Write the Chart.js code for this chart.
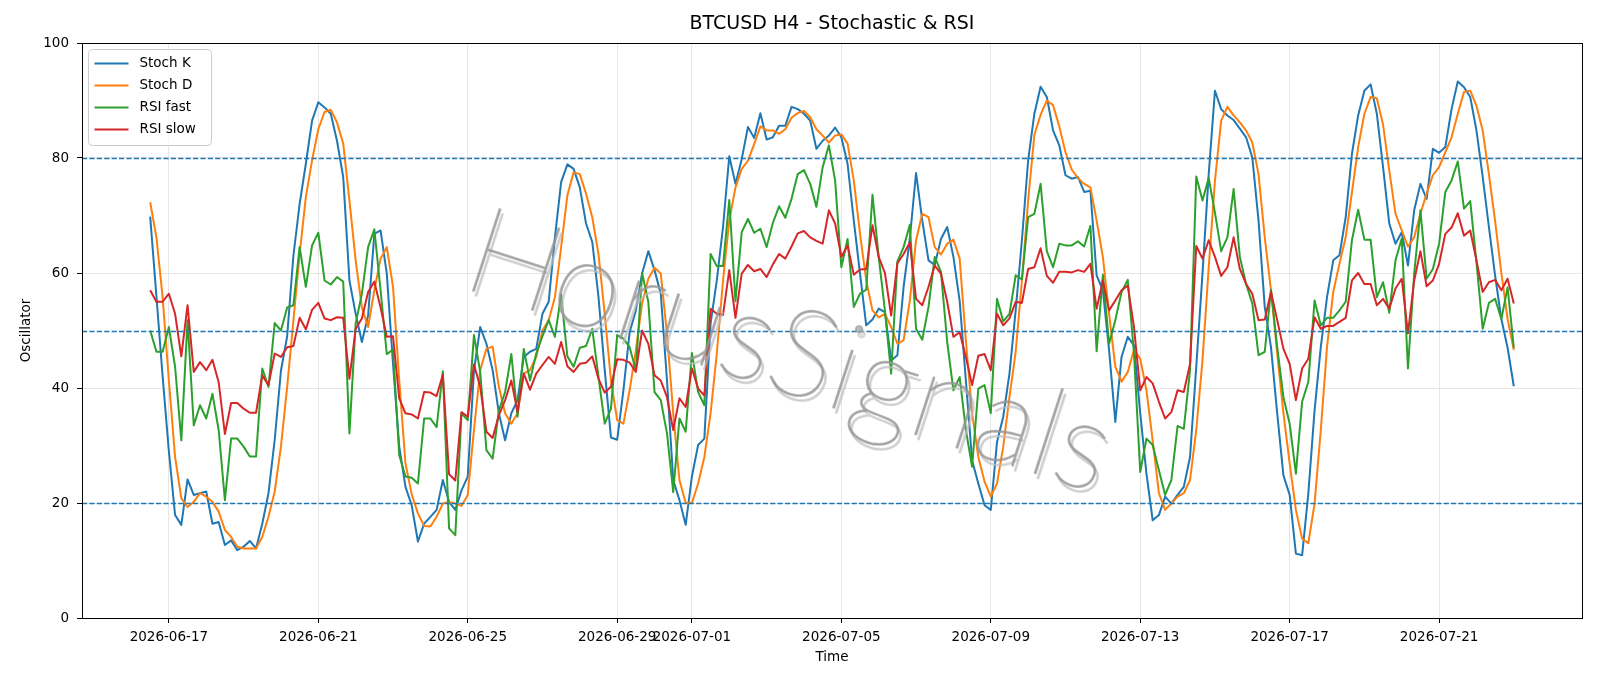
<!DOCTYPE html>
<html>
<head>
<meta charset="utf-8">
<title>BTCUSD H4 - Stochastic &amp; RSI</title>
<script src="https://cdn.jsdelivr.net/npm/chart.js@4.4.1/dist/chart.umd.min.js"></script>
<style>
  html, body { margin: 0; padding: 0; background: #fff; }
  #wrap { width: 1600px; height: 686px; position: relative; }
</style>
</head>
<body>
<div id="wrap"><canvas id="chart"></canvas></div>
<script>
// first H4 bar and spacing
const startTime = Date.UTC(2026, 5, 16, 12);
const barHours = 4;

const tickDates = ['2026-06-17', '2026-06-21', '2026-06-25', '2026-06-29', '2026-07-01',
                   '2026-07-05', '2026-07-09', '2026-07-13', '2026-07-17', '2026-07-21'];
const levels = [20, 50, 80];

const stochK = [
  69.8, 56, 42, 29, 17.9, 16.2, 24.1, 21.4, 21.7, 22,
  16.4, 16.7, 12.7, 13.5, 11.8, 12.4, 13.4, 12.1, 16.4, 21.7,
  31, 43, 49, 63, 72, 79, 86.5, 89.7, 88.8, 87.7,
  83, 76.7, 58.7, 52.9, 48, 52.6, 66.8, 67.4, 59.9, 44.2,
  29.8, 22.8, 19.6, 13.3, 16.4, 17.6, 18.8, 24, 20.2, 18.8,
  22.2, 24.6, 43, 50.6, 47.7, 43.1, 35.6, 30.9, 35.6, 37.9,
  45.4, 46.3, 46.8, 52.9, 55, 66.2, 75.8, 78.9, 78.1, 74.9,
  68.6, 65.4, 55.8, 43.1, 31.4, 31, 39.6, 49.7, 53.5, 59.9,
  63.8, 60.5, 56.4, 41.3, 24, 20.5, 16.2, 24.6, 30.1, 31.2,
  51.2, 58.7, 68, 80.3, 75.5, 79.8, 85.4, 83.5, 87.8, 83.2,
  83.6, 85.6, 85.6, 88.9, 88.5, 87.7, 86.5, 81.6, 83, 83.9,
  85.3, 83.6, 79, 69.1, 59.9, 50.9, 51.9, 53.8, 53.2, 44.8,
  45.7, 57.6, 66, 77.4, 69.1, 62.2, 61.4, 65.9, 68, 62.8,
  55.2, 41.3, 27.4, 23.4, 19.6, 18.8, 30.6, 35, 42.5, 53.5,
  65.7, 79.6, 87.7, 92.4, 90.6, 84.8, 82.2, 77, 76.4, 76.7,
  74.1, 74.3, 59.6, 57, 46.6, 34.1, 45.4, 48.9, 47.4, 35.6,
  25.1, 17, 17.9, 21.1, 19.9, 21.4, 22.8, 28, 43.7, 59.9,
  77.2, 91.7, 88.5, 87.4, 86.6, 85.1, 83.6, 80.1, 69.1, 54.1,
  47.1, 35.6, 24.8, 21.4, 11.2, 10.9, 21.7, 36.1, 47.1, 55.8,
  62.2, 63.1, 69.7, 80.7, 87.4, 91.7, 92.8, 87.7, 78.4, 68.6,
  65.1, 67.1, 61.3, 70.9, 75.5, 72.9, 81.6, 80.9, 81.9, 88.5,
  93.3, 92.3, 90.6, 84.8, 76.7, 68, 59.5, 52, 47, 40.3
];

const stochD = [
  72.3, 66.2, 55.8, 41.3, 28, 20.8, 19.3, 20.2, 21.7, 21.1,
  20.2, 18.5, 15.3, 14.1, 12.4, 12.1, 12.1, 12.1, 14.1, 17.6,
  22, 29.8, 40.2, 51.7, 63.3, 73.2, 79.6, 85, 88, 88.4,
  86.2, 82.5, 72.6, 62.2, 54, 50.6, 57, 62.5, 64.5, 57.6,
  41.3, 26.9, 21.5, 18.2, 16, 15.9, 17.6, 19.9, 20.2, 19.9,
  19.5, 21.4, 32.7, 43.1, 46.8, 47.2, 40.2, 35.6, 33.8, 35.6,
  42.5, 43.1, 45.4, 50, 51.8, 55.8, 64.5, 73.5, 77.5, 77.2,
  73.8, 69.7, 63.3, 52.9, 41.3, 34.4, 33.8, 39.6, 46.6, 54.7,
  59, 60.9, 59.9, 49.4, 35.6, 24, 20, 20, 23.4, 28,
  35.6, 46, 58.7, 69.1, 74.9, 78.1, 79.5, 82.4, 85.5, 84.8,
  84.8, 84.2, 85, 87, 87.8, 88.2, 87.1, 85, 83.9, 82.7,
  83.9, 84.1, 82.5, 76.1, 66.8, 58.7, 53.5, 52.3, 52.9, 50.6,
  47.7, 48.3, 55.2, 65.7, 70.3, 69.7, 64.5, 63.2, 65.1, 65.8,
  62.5, 48.3, 35.6, 28, 23.7, 21.1, 23.4, 29.8, 38.4, 46.3,
  58.7, 72.6, 84, 87.5, 90, 89.2, 85.5, 81, 78, 76.5,
  75.5, 74.9, 69.1, 62.8, 52.9, 43.7, 41.1, 42.8, 46.6, 45.1,
  39.6, 30.9, 21.7, 18.8, 19.9, 21.1, 21.7, 24, 32.7, 44.8,
  61, 76, 86.5, 88.9, 87.4, 86.2, 84.8, 82.7, 77.2, 66.2,
  57, 46, 35.6, 26.9, 18.8, 13.8, 13, 19.9, 32.7, 47.1,
  56.7, 61.6, 66.2, 74, 81.9, 87.7, 90.6, 90.4, 85.8, 77.8,
  70.3, 67.4, 64.6, 66.2, 70.3, 73.8, 77, 78.4, 81, 83.6,
  87.7, 91.5, 91.7, 89.1, 84.8, 77.2, 69, 60, 52, 46.6
];

const rsiFast = [
  50, 46.3, 46.3, 50.6, 43.7, 30.9, 51.8, 33.5, 37, 34.7,
  39, 32.7, 20.5, 31.2, 31.2, 29.8, 28.1, 28.1, 43.4, 40.2,
  51.3, 50, 54, 54.4, 64.5, 57.6, 64.8, 67, 58.7, 58,
  59.3, 58.5, 32.1, 51.2, 56.4, 64.5, 67.6, 57, 45.9, 46.7,
  28.3, 24.6, 24.4, 23.4, 34.7, 34.7, 33.2, 42.9, 15.6, 14.4,
  35.6, 34.4, 49.2, 42.8, 29.2, 27.7, 36.1, 39.3, 45.9, 35,
  46.8, 41.3, 46, 49, 51.8, 48.9, 56.2, 45.5, 43.7, 47,
  47.3, 50.3, 41.9, 33.8, 36.4, 49.2, 48.6, 47.1, 43.1, 60,
  55, 39.3, 37.9, 32.1, 21.9, 34.7, 32.4, 46.1, 39.3, 37,
  63.3, 61.2, 61.2, 72.7, 55.1, 67.1, 69.4, 67, 67.7, 64.5,
  68.7, 71.6, 69.6, 72.9, 77.2, 77.9, 75.5, 71.5, 78.4, 82.2,
  76.1, 61, 65.9, 54.1, 56.4, 57.1, 73.6, 62.8, 53.5, 42.5,
  62, 64.5, 68.4, 50.3, 48.4, 54.1, 62.8, 60.2, 48, 39.6,
  41.9, 32.7, 26.3, 39.9, 40.5, 35.6, 55.5, 51.6, 52.9, 59.6,
  58.9, 69.7, 70.3, 75.5, 63.8, 61, 65.1, 64.8, 64.8, 65.5,
  64.6, 68.2, 46.4, 59.7, 47.7, 51.8, 56.7, 58.8, 46, 25.4,
  31.2, 30.1, 25.7, 21.4, 24, 33.4, 32.9, 43.1, 76.8, 72.6,
  76.5, 70.5, 63.8, 66.2, 74.6, 62.8, 58.1, 54.7, 45.7, 46.3,
  57.1, 47.1, 38.4, 33.8, 25.1, 37.6, 41.1, 55.2, 50.9, 52.2,
  52.2, 53.5, 55, 65.7, 71, 65.8, 65.8, 55.8, 58.4, 53.1,
  62.2, 66, 43.4, 59.9, 70.9, 59, 60.7, 65.1, 74.1, 76.1,
  79.4, 71.2, 72.5, 61.9, 50.3, 54.8, 55.5, 52, 57.5, 47
];

const rsiSlow = [
  57, 55, 55, 56.4, 52.9, 45.5, 54.4, 42.8, 44.5, 43.1,
  44.9, 41, 32, 37.4, 37.4, 36.4, 35.7, 35.7, 42.2, 40.5,
  46, 45.4, 47.1, 47.3, 52.2, 50.2, 53.6, 54.8, 52.1, 51.8,
  52.3, 52.2, 41.6, 50.3, 52.1, 56.7, 58.5, 54, 48.9, 49,
  38.2, 35.6, 35.4, 34.7, 39.3, 39.2, 38.6, 42.3, 25, 23.9,
  35.8, 35, 44.1, 40.2, 32.4, 31.3, 35.3, 37.9, 41.3, 35.8,
  42.5, 39.7, 42.5, 44, 45.4, 44.2, 48, 43.8, 42.8, 44.2,
  44.4, 45.5, 41.6, 39.2, 40.2, 45, 44.9, 44.4, 42.8, 50,
  47.7, 42.2, 41.3, 38.4, 32.7, 38.2, 36.7, 43.4, 39.9, 38.7,
  53.8, 52.9, 52.7, 60.5, 52.2, 59.9, 61.4, 60.3, 60.7, 59.3,
  61.5, 63.3, 62.5, 64.6, 66.9, 67.3, 66.2, 65.6, 65.1, 70.9,
  68.6, 62.8, 64.8, 59.7, 60.6, 60.7, 68.3, 62.8, 60, 52.6,
  61.7, 63.3, 65.3, 55.5, 54.4, 57.6, 61.3, 59.9, 55, 48.9,
  49.7, 45.4, 40.5, 45.6, 45.9, 43.1, 52.9, 50.9, 52.1, 55,
  54.8, 60.7, 61, 64.3, 59.5, 58.3, 60.2, 60.2, 60.1, 60.5,
  60.2, 61.6, 53.8, 58.7, 53.5, 55.2, 57, 57.8, 50.6, 39.6,
  41.9, 40.8, 37.6, 34.7, 35.8, 39.6, 39.3, 44.2, 64.7, 62.5,
  65.7, 62.8, 59.5, 61, 66.2, 60.7, 58.1, 56.4, 51.8, 51.9,
  56.7, 51.8, 46.8, 44.2, 37.9, 43.4, 45.1, 52.3, 50.3, 50.8,
  50.8, 51.5, 52.2, 58.7, 60, 58.1, 58.1, 54.4, 55.5, 53.8,
  57.3, 59, 49.5, 58.7, 63.8, 57.7, 58.7, 61.6, 66.8, 67.9,
  70.4, 66.5, 67.4, 62.2, 56.7, 58.4, 58.8, 57, 59, 54.7
];

const HOUR = 3600 * 1000;
const times = stochK.map((_, i) => startTime + i * barHours * HOUR);
const span = times[times.length - 1] - times[0];
const toPoints = arr => arr.map((v, i) => ({x: times[i], y: v}));
const fmtDate = v => new Date(v).toISOString().slice(0, 10);

Chart.defaults.font.family = '"DejaVu Sans", sans-serif';
Chart.defaults.color = '#000';

const FS = 13.5;
const WATERMARK = 'HorusSignals';

// dashed levels, watermark, custom legend and frame
const overlay = {
  id: 'overlay',
  afterDatasetsDraw(chart){
    const {ctx, chartArea: a, scales: {y}} = chart;
    ctx.save();
    ctx.beginPath(); ctx.rect(a.left, a.top, a.right - a.left, a.bottom - a.top); ctx.clip();
    ctx.strokeStyle = '#1f77b4';
    ctx.lineWidth = 1.4;
    ctx.setLineDash([5.2, 2.2]);
    levels.forEach(v=>{
      const py = Math.round(y.getPixelForValue(v)) + 0.5;
      ctx.beginPath(); ctx.moveTo(a.left, py); ctx.lineTo(a.right, py); ctx.stroke();
    });
    ctx.restore();
  },
  afterDraw(chart){
    const {ctx, chartArea: a} = chart;
    // watermark: thin grey text with an offset light shadow
    ctx.save();
    ctx.translate(790, 352);
    ctx.rotate(18 * Math.PI / 180);
    ctx.font = '200 100px Lato, "DejaVu Sans"';
    const w = ctx.measureText(WATERMARK).width;
    ctx.font = '200 ' + (100 * 670 / w).toFixed(1) + 'px Lato, "DejaVu Sans"';
    ctx.textAlign = 'center';
    ctx.textBaseline = 'middle';
    ctx.lineJoin = 'round';
    ctx.lineWidth = 1.6;
    ctx.fillStyle = ctx.strokeStyle = 'rgba(190,190,190,0.5)';
    ctx.fillText(WATERMARK, 4, 4);
    ctx.strokeText(WATERMARK, 4, 4);
    ctx.fillStyle = ctx.strokeStyle = 'rgba(150,150,150,0.65)';
    ctx.fillText(WATERMARK, 0, 0);
    ctx.strokeText(WATERMARK, 0, 0);
    ctx.restore();

    // frame
    ctx.save();
    ctx.strokeStyle = '#000';
    ctx.lineWidth = 1;
    ctx.strokeRect(Math.round(a.left) + 0.5, Math.round(a.top) + 0.5,
                   Math.round(a.right - a.left), Math.round(a.bottom - a.top));
    ctx.restore();

    // legend
    const bx = a.left + 6.5, by = a.top + 6.5, bw = 123, bh = 96;
    ctx.save();
    ctx.beginPath();
    ctx.roundRect(bx, by, bw, bh, 4);
    ctx.fillStyle = 'rgba(255,255,255,0.8)';
    ctx.fill();
    ctx.strokeStyle = '#cccccc';
    ctx.lineWidth = 1;
    ctx.stroke();
    ctx.font = FS + 'px "DejaVu Sans"';
    ctx.textBaseline = 'middle';
    chart.data.datasets.forEach((ds, k)=>{
      const ry = by + 14 + k * 22;
      ctx.strokeStyle = ds.borderColor;
      ctx.lineWidth = 2;
      ctx.beginPath(); ctx.moveTo(bx + 6, ry); ctx.lineTo(bx + 40, ry); ctx.stroke();
      ctx.fillStyle = '#000';
      ctx.fillText(ds.label, bx + 51, ry);
    });
    ctx.restore();
  }
};

const line = (label, data, color, order) => ({
  label, data: toPoints(data), borderColor: color, backgroundColor: color,
  borderWidth: 2, pointRadius: 0, tension: 0, borderJoinStyle: 'round', order
});

new Chart(document.getElementById('chart'), {
  type: 'line',
  data: {
    datasets: [
      line('Stoch K', stochK, '#1f77b4', 4),
      line('Stoch D', stochD, '#ff7f0e', 3),
      line('RSI fast', rsiFast, '#2ca02c', 2),
      line('RSI slow', rsiSlow, '#d62728', 1)
    ]
  },
  options: {
    responsive: true,
    maintainAspectRatio: false,
    animation: false,
    devicePixelRatio: 1,
    layout: { padding: { left: 0, right: 18, top: 0, bottom: 0 } },
    plugins: {
      legend: { display: false },
      tooltip: { enabled: false },
      title: {
        display: true,
        fullSize: false,
        text: 'BTCUSD H4 - Stochastic & RSI',
        font: { size: 19, weight: 'normal' },
        color: '#000',
        padding: { top: 13, bottom: 7.2 }
      }
    },
    scales: {
      x: {
        type: 'linear',
        min: times[0] - span * 0.05,
        max: times[times.length - 1] + span * 0.05,
        afterBuildTicks: scale => { scale.ticks = tickDates.map(d => ({ value: Date.parse(d + 'T00:00:00Z') })); },
        afterFit: scale => { scale.height = 68; },
        ticks: {
          callback: v => fmtDate(v),
          autoSkip: false, maxRotation: 0, minRotation: 0,
          font: { size: FS }, color: '#000', padding: 6
        },
        grid: { color: '#e6e6e6', lineWidth: 1, tickColor: '#000', tickLength: 5 },
        border: { display: false },
        title: { display: true, text: 'Time', font: { size: FS }, color: '#000', padding: { top: 0, bottom: 20 } }
      },
      y: {
        min: 0, max: 100,
        afterFit: scale => { scale.width = 82; },
        ticks: { stepSize: 20, font: { size: FS }, color: '#000', padding: 8 },
        grid: { color: '#e6e6e6', lineWidth: 1, tickColor: '#000', tickLength: 5 },
        border: { display: false },
        title: { display: true, text: 'Oscillator', font: { size: FS }, color: '#000', padding: { top: 18, bottom: 0 } }
      }
    }
  },
  plugins: [overlay]
});
</script>
</body>
</html>
